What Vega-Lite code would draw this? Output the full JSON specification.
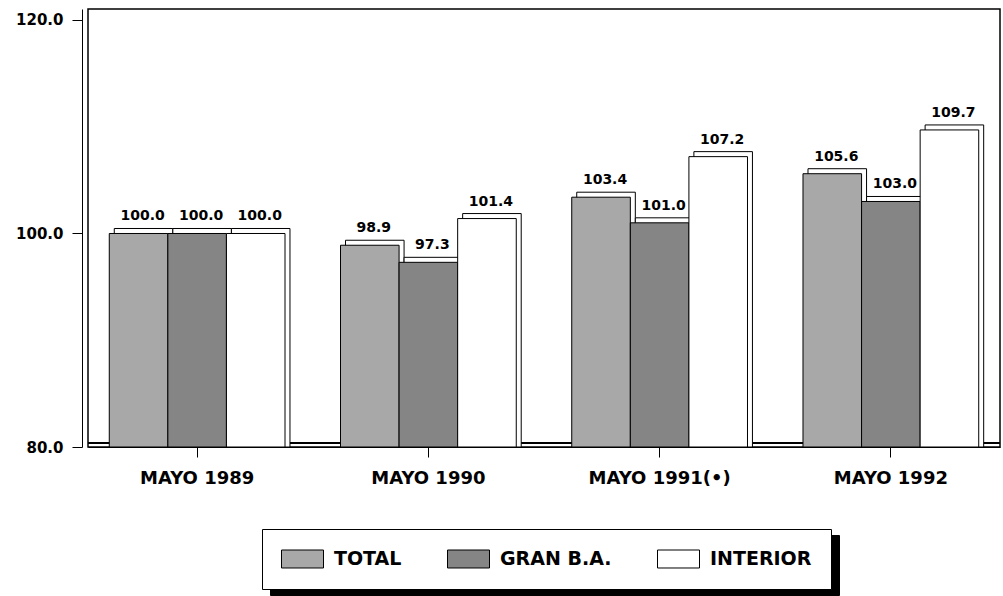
{
  "$schema": "https://vega.github.io/schema/vega-lite/v6.json",
  "width": 912,
  "height": 438,
  "autosize": {"type": "none"},
  "padding": {"left": 88, "top": 9, "right": 3, "bottom": 149},
  "background": "white",
  "data": {
    "values": [
      {"periodo": "MAYO 1989", "serie": "TOTAL", "valor": 100.0},
      {"periodo": "MAYO 1989", "serie": "GRAN B.A.", "valor": 100.0},
      {"periodo": "MAYO 1989", "serie": "INTERIOR", "valor": 100.0},
      {"periodo": "MAYO 1990", "serie": "TOTAL", "valor": 98.9},
      {"periodo": "MAYO 1990", "serie": "GRAN B.A.", "valor": 97.3},
      {"periodo": "MAYO 1990", "serie": "INTERIOR", "valor": 101.4},
      {"periodo": "MAYO 1991(•)", "serie": "TOTAL", "valor": 103.4},
      {"periodo": "MAYO 1991(•)", "serie": "GRAN B.A.", "valor": 101.0},
      {"periodo": "MAYO 1991(•)", "serie": "INTERIOR", "valor": 107.2},
      {"periodo": "MAYO 1992", "serie": "TOTAL", "valor": 105.6},
      {"periodo": "MAYO 1992", "serie": "GRAN B.A.", "valor": 103.0},
      {"periodo": "MAYO 1992", "serie": "INTERIOR", "valor": 109.7}
    ]
  },
  "layer": [
    {
      "mark": {"type": "rule", "yOffset": -4, "color": "black", "strokeWidth": 1},
      "encoding": {
        "y": {"datum": 80, "type": "quantitative"}
      }
    },
    {
      "mark": {"type": "bar", "yOffset": -5, "fill": "white", "stroke": "black", "strokeWidth": 1},
      "encoding": {
        "x": {
          "field": "periodo", "type": "nominal", "sort": null,
          "scale": {"paddingInner": 0.24, "paddingOuter": 0.092},
          "axis": {
            "title": null, "labelAngle": 0, "tickSize": 10, "labelPadding": 12, "tickColor": "black", "domainColor": "black",
            "labelFont": "DejaVu Sans", "labelFontWeight": "bold", "labelFontSize": 18, "labelColor": "black", "grid": false
          }
        },
        "xOffset": {"field": "serie", "type": "nominal", "sort": ["TOTAL", "GRAN B.A.", "INTERIOR"],
          "scale": {"paddingInner": 0, "paddingOuter": 0, "range": [5, 180.7]}},
        "y": {
          "field": "valor", "type": "quantitative",
          "scale": {"domain": [80, 121.03], "nice": false, "zero": false},
          "axis": {
            "title": null, "values": [80, 100, 120], "format": ".1f", "tickSize": 10, "labelPadding": 9, "offset": 6,
            "tickColor": "black", "domainColor": "black", "grid": false,
            "labelFont": "DejaVu Sans", "labelFontWeight": "bold", "labelFontSize": 15, "labelColor": "black"
          }
        },
        "y2": {"datum": 80},
        "opacity": {
          "field": "serie", "type": "nominal",
          "scale": {"domain": ["INTERIOR", "GRAN B.A.", "TOTAL"], "range": [1, 1]},
          "legend": {
            "title": null, "orient": "none", "legendX": 182, "legendY": 526, "direction": "horizontal",
            "fillColor": "black", "strokeColor": "black", "padding": 19,
            "symbolType": "M-1,-0.857H3V0.857H-1Z", "symbolSize": 441,
            "symbolFillColor": "black", "symbolStrokeColor": "black", "symbolStrokeWidth": 1,
            "labelExpr": "''", "labelFontSize": 19,
            "labelOffset": 31, "columnPadding": 184, "zindex": 1
          }
        }
      }
    },
    {
      "mark": {"type": "bar", "stroke": "black", "strokeWidth": 1, "opacity": 1},
      "encoding": {
        "x": {"field": "periodo", "type": "nominal", "sort": null},
        "xOffset": {"field": "serie", "type": "nominal", "sort": ["TOTAL", "GRAN B.A.", "INTERIOR"],
          "scale": {"type": "band", "paddingInner": 0, "paddingOuter": 0}},
        "y": {"field": "valor", "type": "quantitative"},
        "y2": {"datum": 80},
        "color": {
          "field": "serie", "type": "nominal",
          "scale": {"domain": ["TOTAL", "GRAN B.A.", "INTERIOR"], "range": ["#a8a8a8", "#858585", "#ffffff"]},
          "legend": {
            "title": null, "orient": "none", "legendX": 174, "legendY": 520, "direction": "horizontal",
            "fillColor": "white", "strokeColor": "black", "padding": 19,
            "symbolType": "M-1,-0.857H3V0.857H-1Z", "symbolSize": 441,
            "symbolStrokeColor": "black", "symbolStrokeWidth": 1, "symbolOpacity": 1,
            "labelFont": "DejaVu Sans", "labelFontWeight": "bold", "labelFontSize": 19, "labelColor": "black",
            "labelOffset": 31, "columnPadding": 43, "zindex": 2
          }
        }
      }
    },
    {
      "mark": {"type": "text", "dy": -13, "dx": 4, "baseline": "alphabetic", "align": "center", "font": "DejaVu Sans", "fontWeight": "bold", "fontSize": 14, "color": "black"},
      "encoding": {
        "x": {"field": "periodo", "type": "nominal", "sort": null},
        "xOffset": {"field": "serie", "type": "nominal", "sort": ["TOTAL", "GRAN B.A.", "INTERIOR"],
          "scale": {"type": "band", "paddingInner": 0, "paddingOuter": 0}},
        "y": {"field": "valor", "type": "quantitative"},
        "text": {"field": "valor", "type": "quantitative", "format": ".1f"}
      }
    }
  ],
  "resolve": {"scale": {"opacity": "independent", "xOffset": "independent"}},
  "config": {
    "view": {"stroke": "black", "strokeWidth": 1.5}
  }
}
